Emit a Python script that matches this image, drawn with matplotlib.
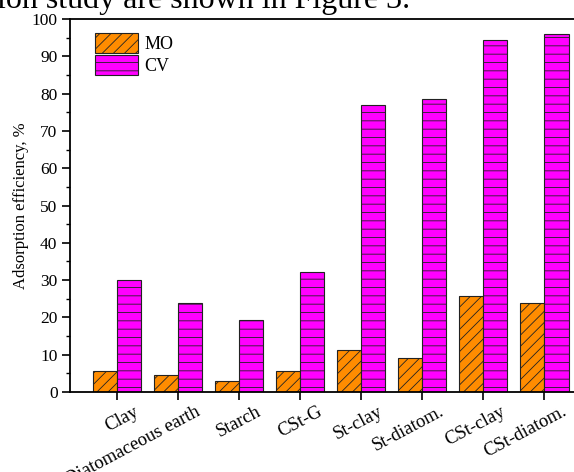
import numpy as np
import matplotlib.pyplot as plt
from matplotlib.ticker import MultipleLocator
from matplotlib.transforms import ScaledTranslation

# data
categories = ['Clay', 'Diatomaceous earth', 'Starch', 'CSt-G', 'St-clay',
              'St-diatom.', 'CSt-clay', 'CSt-diatom.']
mo_values = [5.6, 4.6, 2.9, 5.6, 11.3, 9.2, 25.8, 23.9]
cv_values = [30.0, 23.8, 19.2, 32.3, 77.0, 78.5, 94.5, 96.0]

plt.rcParams['font.family'] = ['Liberation Serif', 'DejaVu Serif']
plt.rcParams['hatch.linewidth'] = 0.6

fig = plt.figure(figsize=(5.74, 4.72), dpi=100)
ax = fig.add_axes([70 / 574, 80 / 472, 1 - 70 / 574, 373 / 472])

x = np.arange(len(categories))
width = 0.4
ax.bar(x - width / 2, mo_values, width, color='#ff8c00', edgecolor='#222222',
       linewidth=0.8, hatch='///', label='MO')
ax.bar(x + width / 2, cv_values, width, color='#ff00ff', edgecolor='#222222',
       linewidth=0.8, hatch='--', label='CV')

ax.set_xlim(-0.77, 7.49)
ax.set_ylim(0, 100)
ax.yaxis.set_major_locator(MultipleLocator(10))
ax.yaxis.set_minor_locator(MultipleLocator(5))
ax.set_xticks(x)
ax.set_xticklabels(categories, rotation=28, ha='right', rotation_mode='anchor',
                   fontsize=13.5)
ax.tick_params(axis='y', which='major', direction='out', length=6, width=1.2,
               labelsize=12.5, pad=3)
ax.tick_params(axis='y', which='minor', direction='out', length=3, width=1)
ax.tick_params(axis='x', direction='out', length=6, width=1.2, pad=2)
# shift the rotated labels so their right end sits a bit right of the tick
for lbl in ax.get_xticklabels():
    lbl.set_transform(lbl.get_transform() +
                      ScaledTranslation(0.17, 0, fig.dpi_scale_trans))
ax.spines['right'].set_visible(False)
for s in ['left', 'bottom', 'top']:
    ax.spines[s].set_linewidth(1.3)
ax.set_ylabel('Adsorption efficiency, %', fontsize=12, labelpad=2)

ax.legend(loc='upper left', bbox_to_anchor=(0.02, 1.0), frameon=False,
          fontsize=13, handlelength=2.4, handleheight=1.3, handletextpad=0.35,
          labelspacing=0.1, borderaxespad=0.4)

fig.text(-0.005, 1 - 8 / 472, 'ion study are shown in Figure 3.', fontsize=23,
         va='baseline', ha='left')

fig.savefig('out.png', dpi=100)
